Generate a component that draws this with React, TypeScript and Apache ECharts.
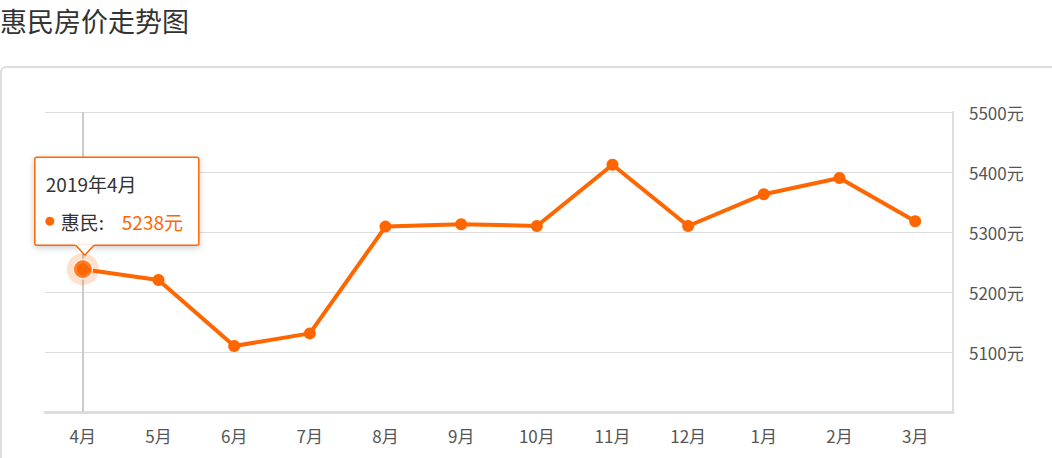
import React, { useEffect, useRef } from 'react';
import * as echarts from 'echarts';

const chartTitle = '惠民房价走势图';
const months = ['4月', '5月', '6月', '7月', '8月', '9月', '10月', '11月', '12月', '1月', '2月', '3月'];
const prices = [5238, 5220, 5110, 5131, 5309, 5313, 5310, 5412, 5310, 5363, 5390, 5318];
const seriesName = '惠民';
const unit = '元';
const yMin = 5000;
const yMax = 5500;
const yStep = 100;
const highlightIndex = 0;
const highlightLabel = '2019年4月';

const ORANGE = '#ff6600';
const FONT = "'Noto Sans CJK SC', 'Noto Sans', sans-serif";

export default function App() {
  const ref = useRef<HTMLDivElement>(null);

  useEffect(() => {
    const chart = echarts.init(ref.current!, null, { renderer: 'svg' });
    chart.setOption({
      animation: false,
      grid: { left: 45, right: 99, top: 112, bottom: 46 },
      xAxis: {
        type: 'category',
        data: months,
        boundaryGap: true,
        axisLine: { lineStyle: { color: '#dddddd', width: 3 } },
        axisTick: { alignWithLabel: true, length: 5, lineStyle: { color: '#dddddd', width: 1 } },
        axisLabel: { color: '#555555', fontSize: 17, margin: 15, fontFamily: FONT },
        splitLine: { show: false },
      },
      yAxis: {
        type: 'value',
        position: 'right',
        min: yMin,
        max: yMax,
        interval: yStep,
        axisLine: { show: true, lineStyle: { color: '#dddddd', width: 2 } },
        axisTick: { show: false },
        axisLabel: {
          formatter: (v: number) => String(v) + unit,
          color: '#555555',
          fontSize: 17,
          margin: 16,
          showMinLabel: false,
          fontFamily: FONT,
        },
        splitLine: { lineStyle: { color: '#dddddd', width: 1 } },
      },
      series: [
        {
          name: seriesName,
          type: 'line',
          data: prices,
          symbol: 'circle',
          symbolSize: 12,
          lineStyle: { color: ORANGE, width: 4 },
          itemStyle: { color: ORANGE },
          z: 3,
          markLine: {
            silent: true,
            symbol: 'none',
            label: { show: false },
            lineStyle: { color: '#cccccc', width: 2, type: 'solid' },
            data: [{ xAxis: highlightIndex }],
            z: 1,
          },
        },
        {
          name: 'halo',
          type: 'scatter',
          data: [[highlightIndex, prices[highlightIndex]]],
          symbolSize: 32,
          itemStyle: { color: 'rgba(255,102,0,0.25)' },
          silent: true,
          z: 4,
        },
        {
          name: 'focus',
          type: 'scatter',
          data: [[highlightIndex, prices[highlightIndex]]],
          symbolSize: 19,
          itemStyle: { color: ORANGE, borderColor: '#ffffff', borderWidth: 1.5 },
          silent: true,
          z: 5,
        },
      ],
    });

    const [px, py] = chart.convertToPixel({ gridIndex: 0 }, [highlightIndex, prices[highlightIndex]]) as number[];
    const boxX = px - 48;
    const boxY = py - 112;
    const boxW = 164;
    const boxH = 88;
    const boxBottom = boxY + boxH;

    chart.setOption({
      graphic: [
        {
          type: 'text',
          left: 0,
          top: 7,
          style: { text: chartTitle, fill: '#333333', fontSize: 27, fontFamily: FONT },
          z: 10,
        },
        {
          type: 'rect',
          shape: { x: 1, y: 67, width: 1200, height: 600, r: 5 },
          style: { fill: 'none', stroke: '#dddddd', lineWidth: 2 },
          silent: true,
          z: 0,
        },
        {
          type: 'group',
          z: 20,
          children: [
            {
              type: 'rect',
              shape: { x: boxX, y: boxY, width: boxW, height: boxH, r: 2 },
              style: {
                fill: '#ffffff',
                stroke: ORANGE,
                lineWidth: 1.5,
                shadowBlur: 6,
                shadowColor: 'rgba(0,0,0,0.2)',
                shadowOffsetY: 2,
              },
              z: 20,
            },
            {
              type: 'polygon',
              shape: { points: [[px - 8, boxBottom - 1], [px + 2, py - 14], [px + 12, boxBottom - 1]] },
              style: { fill: '#ffffff' },
              z: 21,
            },
            {
              type: 'polyline',
              shape: { points: [[px - 7, boxBottom], [px + 2, py - 14], [px + 11, boxBottom]] },
              style: { stroke: ORANGE, lineWidth: 1.5, fill: 'none' },
              z: 21,
            },
            {
              type: 'text',
              style: {
                x: boxX + 11,
                y: py - 86,
                text: highlightLabel,
                fill: '#333333',
                fontSize: 19,
                fontFamily: FONT,
                verticalAlign: 'middle',
              },
              z: 22,
            },
            {
              type: 'circle',
              shape: { cx: boxX + 15, cy: py - 48, r: 4.5 },
              style: { fill: ORANGE },
              z: 22,
            },
            {
              type: 'text',
              style: {
                x: boxX + 26,
                y: py - 48,
                text: seriesName + ':',
                fill: '#333333',
                fontSize: 19,
                fontFamily: FONT,
                verticalAlign: 'middle',
              },
              z: 22,
            },
            {
              type: 'text',
              style: {
                x: boxX + 87,
                y: py - 48,
                text: prices[highlightIndex] + unit,
                fill: ORANGE,
                fontSize: 19,
                fontFamily: FONT,
                verticalAlign: 'middle',
              },
              z: 22,
            },
          ],
        },
      ],
    });

    return () => chart.dispose();
  }, []);

  return (
    <div
      ref={ref}
      style={{ position: 'absolute', left: 0, top: 0, width: 1052, height: 458, background: '#ffffff' }}
    />
  );
}
